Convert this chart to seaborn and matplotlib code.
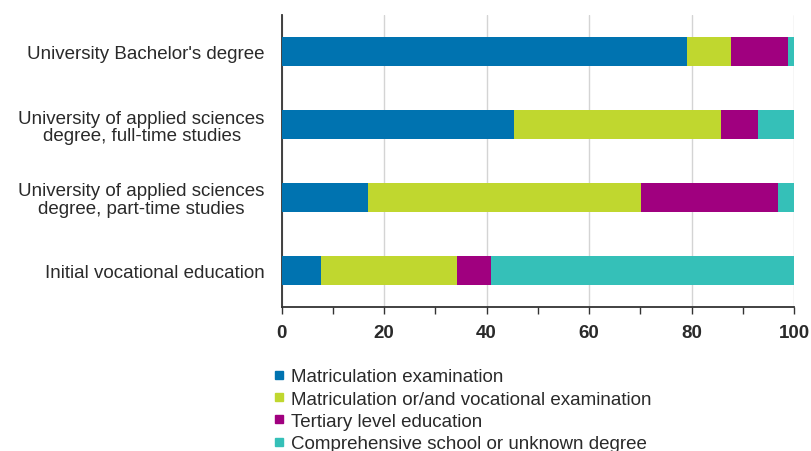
import matplotlib
matplotlib.use("Agg")
import matplotlib.pyplot as plt
from matplotlib.lines import Line2D
import numpy as np
import pandas as pd
import seaborn as sns

# Share of students (%) by background education, per degree type
categories = [
    "University Bachelor's degree",
    "University of applied sciences\ndegree, full-time studies",
    "University of applied sciences\ndegree, part-time studies",
    "Initial vocational education",
]
series_names = [
    "Matriculation examination",
    "Matriculation or/and vocational examination",
    "Tertiary level education",
    "Comprehensive school or unknown degree",
]
matriculation = [79.2, 45.4, 16.8, 7.7]
matric_or_vocational = [8.5, 40.4, 53.4, 26.5]
tertiary = [11.2, 7.2, 26.6, 6.6]
comprehensive = [1.1, 7.0, 3.2, 59.2]
colors = ["#0073b0", "#c0d72f", "#a0007f", "#35c0b8"]
x_ticks = [0, 20, 40, 60, 80, 100]

sns.set_theme(style="white")
plt.rcParams["font.family"] = ["Liberation Sans", "DejaVu Sans"]

values = np.array([matriculation, matric_or_vocational, tertiary, comprehensive])
cumulative = np.cumsum(values, axis=0)

fig = plt.figure(figsize=(8.11, 4.52), dpi=100)
ax = fig.add_axes([281.5 / 811, 1 - 308 / 452, (794 - 281.5) / 811, (308 - 16) / 452])

# Stacked bars: draw the running totals from the outermost segment inwards
for i in range(len(series_names) - 1, -1, -1):
    df = pd.DataFrame({"category": categories, "value": cumulative[i]})
    sns.barplot(data=df, x="value", y="category", order=categories,
                color=colors[i], saturation=1, width=0.4, ax=ax,
                edgecolor="none", linewidth=0, zorder=3)

ax.set_xlim(0, 100)
ax.set_ylim(3.5, -0.5)
ax.set_xlabel("")
ax.set_ylabel("")
ax.set_xticks(x_ticks)
ax.set_xticks(np.arange(0, 101, 10), minor=True)
ax.set_xticklabels([str(t) for t in x_ticks], fontsize=13.5, fontweight="bold",
                   color="#2a2a2a")
ax.tick_params(axis="x", which="both", direction="out", length=5, width=1,
               color="#333333", pad=7, bottom=True)
ax.tick_params(axis="y", length=0, pad=12, labelsize=13.5, labelcolor="#2a2a2a")
for lbl in ax.get_yticklabels():
    lbl.set_multialignment("center")
    lbl.set_linespacing(1.05)

ax.grid(axis="x", color="#d4d4d4", linewidth=1, zorder=0)
ax.grid(axis="y", visible=False)
for side in ["top", "right"]:
    ax.spines[side].set_visible(False)
for side in ["left", "bottom"]:
    ax.spines[side].set_color("#333333")
    ax.spines[side].set_linewidth(1.3)

handles = [Line2D([0], [0], marker="s", linestyle="none", markersize=6,
                  markerfacecolor=c, markeredgecolor=c) for c in colors]
fig.legend(handles, series_names, loc="upper left",
           bbox_to_anchor=(263 / 811, 1 - 360 / 452), frameon=False,
           fontsize=13.5, handlelength=0.7, handletextpad=0.3,
           labelspacing=0.27, borderpad=0, labelcolor="#2a2a2a")

fig.savefig("out.png", dpi=100)
